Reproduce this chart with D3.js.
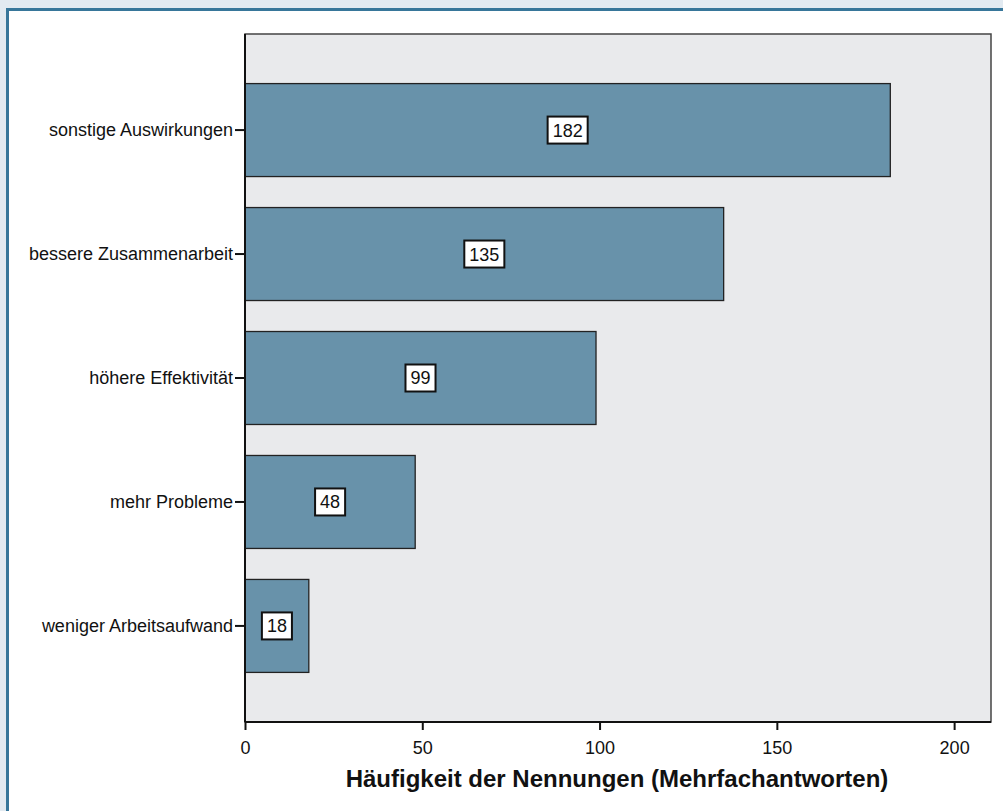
<!DOCTYPE html>
<html><head><meta charset="utf-8">
<script src="https://cdn.jsdelivr.net/npm/d3@7"></script>
<style>html,body{margin:0;padding:0;background:#e2eaf1;overflow:hidden}</style>
</head><body>
<script>
const categories = ["sonstige Auswirkungen","bessere Zusammenarbeit","höhere Effektivität","mehr Probleme","weniger Arbeitsaufwand"];
const values = [182,135,99,48,18];
const xTicks = [0,50,100,150,200];
const xTitle = "Häufigkeit der Nennungen (Mehrfachantworten)";

const W=1003,H=811;
const FONT="Liberation Sans, Arial, sans-serif";
const svg=d3.select("body").append("svg").attr("width",W).attr("height",H);
svg.append("rect").attr("width",W).attr("height",H).attr("fill","#e2eaf1");
svg.append("rect").attr("x",7.5).attr("y",9.5).attr("width",W+20).attr("height",H+20)
  .attr("fill","#ffffff").attr("stroke","#37769a").attr("stroke-width",3);

const L=245,R=991,T=34,B=722;
const x=d3.scaleLinear().domain([0,210.4]).range([L,R]);
const y=d3.scaleBand().domain(categories).range([T,B]).paddingInner(0.25).paddingOuter(0.4);

svg.append("rect").attr("x",L).attr("y",T).attr("width",R-L).attr("height",B-T)
  .attr("fill","#e9eaec").attr("stroke","#444").attr("stroke-width",1.5);

svg.selectAll("rect.bar").data(values).join("rect").attr("class","bar")
  .attr("x",x(0)).attr("y",(d,i)=>y(categories[i]))
  .attr("width",d=>x(d)-x(0)).attr("height",y.bandwidth())
  .attr("fill","#6892aa").attr("stroke","#222").attr("stroke-width",1.3);

// value labels
const lab=svg.selectAll("g.lab").data(values).join("g").attr("class","lab")
  .attr("transform",(d,i)=>`translate(${(x(0)+x(d))/2},${y(categories[i])+y.bandwidth()/2})`);
lab.each(function(d){
  const g=d3.select(this);
  const t=g.append("text").text(d).attr("text-anchor","middle").attr("dy","0.36em")
    .attr("font-family",FONT).attr("font-size",18).attr("fill","#111");
  const w=t.node().getComputedTextLength()+10;
  g.insert("rect","text").attr("x",-w/2).attr("y",-13.5).attr("width",w).attr("height",27)
    .attr("fill","#fff").attr("stroke","#111").attr("stroke-width",2);
});

// axes
const xa=svg.append("g").attr("transform",`translate(0,${B})`)
  .call(d3.axisBottom(x).tickValues(xTicks).tickSize(8).tickPadding(11).tickSizeOuter(0));
const ya=svg.append("g").attr("transform",`translate(${L},0)`)
  .call(d3.axisLeft(y).tickSize(10).tickPadding(2).tickSizeOuter(0));
[xa,ya].forEach(a=>{
  a.select(".domain").attr("stroke","#111").attr("stroke-width",2);
  a.selectAll(".tick line").attr("stroke","#111").attr("stroke-width",2);
  a.selectAll("text").attr("font-family",FONT).attr("font-size",18).attr("fill","#111");
});
xa.select(".domain").attr("d",`M${L},0H${R}`);
ya.select(".domain").attr("d",`M0,${T}V${B}`);

svg.append("text").attr("x",617).attr("y",787).attr("text-anchor","middle")
  .attr("font-family",FONT).attr("font-weight","bold")
  .attr("font-size",24).attr("fill","#111").text(xTitle);
</script>
</body></html>
